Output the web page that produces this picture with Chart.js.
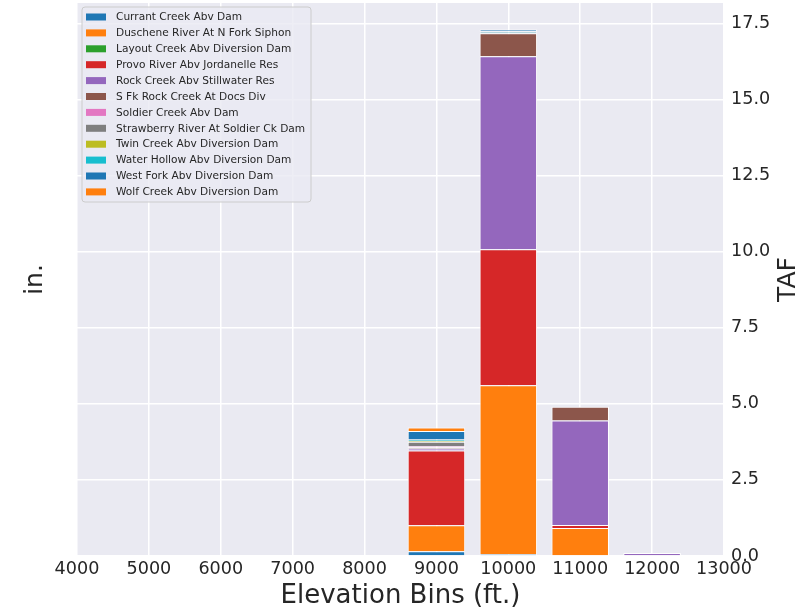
<!DOCTYPE html>
<html>
<head>
<meta charset="utf-8">
<script src="https://cdn.jsdelivr.net/npm/chart.js@4.4.1/dist/chart.umd.min.js"></script>
<style>
  html, body { margin: 0; padding: 0; background: #ffffff; }
  #wrap { width: 807px; height: 613px; }
</style>
</head>
<body>
<div id="wrap"><canvas id="c" width="807" height="613"></canvas></div>
<script>
// ---- Data (TAF per elevation bin) ----
const bins = [9000, 10000, 11000, 12000];
const xTicks = [4000, 5000, 6000, 7000, 8000, 9000, 10000, 11000, 12000, 13000];
const yTicks = [0, 2.5, 5, 7.5, 10, 12.5, 15, 17.5];
const seriesNames = [
  "Currant Creek Abv Dam",
  "Duschene River At N Fork Siphon",
  "Layout Creek Abv Diversion Dam",
  "Provo River Abv Jordanelle Res",
  "Rock Creek Abv Stillwater Res",
  "S Fk Rock Creek At Docs Div",
  "Soldier Creek Abv Dam",
  "Strawberry River At Soldier Ck Dam",
  "Twin Creek Abv Diversion Dam",
  "Water Hollow Abv Diversion Dam",
  "West Fork Abv Diversion Dam",
  "Wolf Creek Abv Diversion Dam"
];
const currant     = [0.16, 0.06, 0,    0];
const duschene    = [0.85, 5.55, 0.92, 0];
const layoutCk    = [0,    0,    0,    0];
const provo       = [2.46, 4.47, 0.10, 0];
const rock        = [0.06, 6.34, 3.43, 0.10];
const sfk         = [0.04, 0.76, 0.45, 0];
const soldier     = [0.04, 0,    0,    0];
const strawberry  = [0.14, 0.02, 0,    0];
const twin        = [0.04, 0,    0,    0];
const waterHollow = [0.04, 0.04, 0,    0];
const westFork    = [0.28, 0.06, 0,    0];
const wolf        = [0.11, 0,    0,    0];
const seriesValues = [currant, duschene, layoutCk, provo, rock, sfk, soldier,
                      strawberry, twin, waterHollow, westFork, wolf];
const colors = ["#1f77b4", "#ff7f0e", "#2ca02c", "#d62728", "#9467bd", "#8c564b",
                "#e377c2", "#7f7f7f", "#bcbd22", "#17becf", "#1f77b4", "#ff7f0e"];

const FONT = "'DejaVu Sans', sans-serif";
const TXT = "#262626";

const datasets = seriesNames.map((name, i) => ({
  label: name,
  data: bins.map((b, j) => ({ x: b, y: seriesValues[i][j] > 0 ? seriesValues[i][j] : null })),
  backgroundColor: colors[i],
  borderColor: "#ffffff",
  borderWidth: { top: 1, left: 1, right: 1, bottom: 0 },
  borderSkipped: false,
  categoryPercentage: 0.8,
  barPercentage: 1.0,
  yAxisID: "yR"
}));

const bgPlugin = {
  id: "bg",
  beforeDraw(chart) {
    const { ctx, chartArea: a } = chart;
    ctx.save();
    ctx.fillStyle = "#ffffff";
    ctx.fillRect(0, 0, chart.width, chart.height);
    ctx.fillStyle = "#eaeaf2";
    ctx.fillRect(a.left, a.top, a.right - a.left, a.bottom - a.top);
    ctx.restore();
  }
};

const overlayPlugin = {
  id: "overlay",
  afterDraw(chart) {
    const { ctx, chartArea: a } = chart;
    ctx.save();
    // Right axis title, reading bottom-to-top
    ctx.fillStyle = TXT;
    ctx.font = "25px " + FONT;
    ctx.textAlign = "center";
    ctx.textBaseline = "middle";
    ctx.translate(788, (a.top + a.bottom) / 2);
    ctx.rotate(-Math.PI / 2);
    ctx.fillText("TAF", 0, 0);
    ctx.restore();

    // Legend inside plot, upper-left
    ctx.save();
    const lx = a.left + 5, ly = a.top + 4, lw = 229, lh = 195, r = 3;
    ctx.beginPath();
    ctx.moveTo(lx + r, ly);
    ctx.lineTo(lx + lw - r, ly);
    ctx.quadraticCurveTo(lx + lw, ly, lx + lw, ly + r);
    ctx.lineTo(lx + lw, ly + lh - r);
    ctx.quadraticCurveTo(lx + lw, ly + lh, lx + lw - r, ly + lh);
    ctx.lineTo(lx + r, ly + lh);
    ctx.quadraticCurveTo(lx, ly + lh, lx, ly + lh - r);
    ctx.lineTo(lx, ly + r);
    ctx.quadraticCurveTo(lx, ly, lx + r, ly);
    ctx.closePath();
    ctx.fillStyle = "rgba(234,234,242,0.8)";
    ctx.fill();
    ctx.strokeStyle = "#cccccc";
    ctx.lineWidth = 1;
    ctx.stroke();
    ctx.font = "10.6px " + FONT;
    ctx.textAlign = "left";
    ctx.textBaseline = "middle";
    chart.data.datasets.forEach((ds, i) => {
      const cy = a.top + 14 + i * 15.9;
      ctx.fillStyle = ds.backgroundColor;
      ctx.fillRect(a.left + 9, cy - 3.5, 20, 7);
      ctx.fillStyle = TXT;
      ctx.fillText(ds.label, a.left + 39, cy + 0.5);
    });
    ctx.restore();
  }
};

new Chart(document.getElementById("c"), {
  type: "bar",
  data: { datasets },
  options: {
    responsive: false,
    animation: false,
    layout: { padding: { top: 3, left: 0, right: 0, bottom: 0 } },
    plugins: { legend: { display: false }, tooltip: { enabled: false } },
    scales: {
      x: {
        type: "linear",
        stacked: true,
        offset: false,
        min: 4000,
        max: 13000,
        afterBuildTicks(s) { s.ticks = xTicks.map(v => ({ value: v })); },
        afterFit(s) { s.height = 57; s.paddingLeft = 0; s.paddingRight = 0; },
        grid: { offset: false, color: "#ffffff", lineWidth: 1.5, drawTicks: false },
        border: { display: false },
        ticks: { color: TXT, font: { family: FONT, size: 17.6 }, padding: 3, maxRotation: 0,
                 callback: v => String(v) },
        title: { display: true, text: "Elevation Bins (ft.)", color: TXT,
                 font: { family: FONT, size: 26 }, padding: { top: 0, bottom: 1 } }
      },
      yL: {
        type: "linear",
        position: "left",
        min: 0,
        max: 1,
        afterFit(s) { s.width = 77; s.paddingTop = 0; s.paddingBottom = 0; },
        grid: { display: false },
        border: { display: false },
        ticks: { display: false },
        title: { display: true, text: "in.", color: TXT,
                 font: { family: FONT, size: 25 }, padding: { top: 20, bottom: 0 } }
      },
      yR: {
        type: "linear",
        position: "right",
        stacked: true,
        min: 0,
        max: 18.17,
        afterBuildTicks(s) { s.ticks = yTicks.map(v => ({ value: v })); },
        afterFit(s) { s.width = 83; s.paddingTop = 0; s.paddingBottom = 0; },
        grid: { color: "#ffffff", lineWidth: 1.5, drawTicks: false },
        border: { display: false },
        ticks: { color: TXT, font: { family: FONT, size: 17.6 }, padding: 7,
                 callback: v => Number(v).toFixed(1) }
      }
    }
  },
  plugins: [bgPlugin, overlayPlugin]
});
</script>
</body>
</html>
